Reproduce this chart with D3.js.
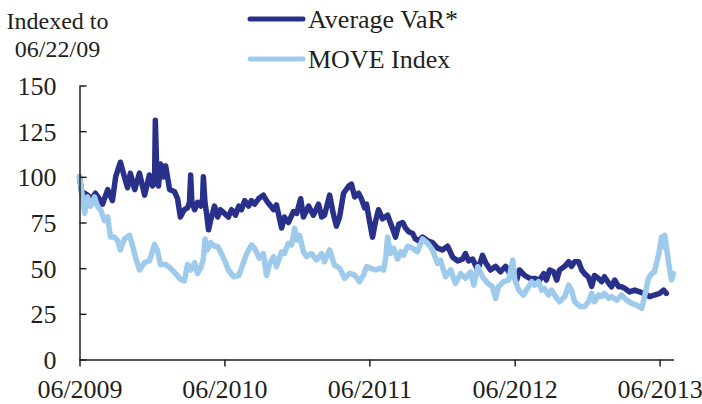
<!DOCTYPE html>
<html>
<head>
<meta charset="utf-8">
<script src="https://cdn.jsdelivr.net/npm/d3@7"></script>
<style>
  html, body { margin: 0; padding: 0; background: #fff; }
  svg { display: block; }
  text { font-family: "Liberation Serif", "Times New Roman", serif; fill: #231f20; }
</style>
</head>
<body>
<svg id="chart" width="702" height="404"></svg>
<script>
// ---- data (days since 06/22/09, index value) ----
const indexDate = "2009-06-22";
const endDate = "2013-07-27";

const varDay = [0,5,13,20,30,40,50,58,71,83,91,103,113,121,128,139,151,164,176,184,189,191,195,199,204,212,217,227,239,247,254,264,272,277,280,283,290,297,305,310,312,316,320,325,330,340,348,355,365,375,383,393,401,408,416,426,433,441,451,463,471,476,489,496,509,516,526,539,547,557,564,577,589,602,610,617,630,640,647,655,665,678,685,693,703,710,718,723,731,738,746,753,763,776,788,796,804,814,821,829,839,846,854,864,877,889,902,914,927,940,952,965,972,980,990,1003,1015,1023,1035,1048,1060,1073,1081,1088,1101,1108,1121,1134,1146,1159,1169,1176,1184,1194,1202,1209,1222,1232,1239,1247,1257,1265,1272,1282,1290,1297,1307,1315,1322,1333,1340,1348,1358,1365,1373,1385,1398,1411,1423,1436,1448,1461,1471,1478];
const varValue = [100,92,91,90,88,91,88,85,93,87,100,108,100,94,102,93,102,90,101,95,97,131,100,95,107,100,106,93,92,88,78,82,83,86,101,86,82,86,84,88,100,86,80,71,76,84,78,82,80,78,82,79,84,82,87,84,87,85,88,90,87,85.5,82,84.6,72,78,75,81,80,88,78,84,79,85,78,79,90,79,73,78,91,95,96,89,91,88,83,85,75,67,76,82,77,79,72,67,74,75,72,70,69,66,65,67,65,64,61,60,62,56,54,55,58,54,55,49,57,53,49,51,48,51,48,50,43.5,49,46,44.4,44.4,43.5,47,43.5,49,48,43.5,49,51,53.5,51,53.5,53.5,49,47,45,40,46,44.4,42.6,45.3,41.7,39.8,43.5,39.8,39.8,39,37,38,37,36,34.4,35.3,36.2,38,36.2];

const moveDay = [0,5,13,20,28,38,45,53,63,71,78,88,96,103,113,126,134,141,151,164,176,189,196,204,217,229,242,254,264,272,280,290,297,305,312,316,322,330,340,348,355,365,375,388,401,408,421,433,441,453,463,471,479,489,496,509,516,526,534,542,547,554,564,572,584,597,610,617,630,642,655,668,680,693,705,715,723,733,746,758,766,771,776,783,791,801,809,816,826,839,851,864,877,889,902,909,922,935,947,960,972,985,993,1003,1015,1028,1040,1048,1055,1068,1081,1091,1096,1106,1118,1131,1139,1146,1156,1164,1171,1181,1189,1202,1209,1222,1232,1239,1247,1260,1272,1282,1290,1297,1307,1315,1322,1333,1340,1353,1365,1378,1391,1403,1416,1423,1433,1441,1448,1459,1466,1471,1474,1484,1491,1496];
const moveValue = [100,93,80,89,84,89,84,82,76,78,67,67,65,60,66,68,62,56,49,53,54,63,60,52,52,50,47,44,43,52,49,53,47,50,55,66,60,64,62,62,59,54.5,49,45.3,46,50,58,62.7,60.8,55.4,58,46,52.6,56.3,50.8,59,58,63.6,62.7,71.8,65.4,68,59,56.3,58,54.5,58,53.5,60,51.7,50,44.4,47.2,46.2,42.6,46.2,50.8,50,49,50,49,55,67,58,61,55,59,57,62,61,59,66,63.6,60,52.6,54.4,45.3,49,41.7,47,44.4,48,40.7,50.8,45.3,41.7,39.8,33.4,39.8,42.6,43.5,54.4,44,38,35.3,39.8,42.6,40.7,42.6,38,38.9,35.3,38,33.5,31.6,34.4,40.7,38,31.6,29,29,31.6,36.2,31.6,35.3,34.4,36.2,33.5,34.4,32.5,35.3,32.5,30.7,29.8,28,34.4,44.4,47,48,58,67,61.7,68,52.6,43.5,47];

const yTicks = [0, 25, 50, 75, 100, 125, 150];
const xTickDates = ["2009-06-22", "2010-06-22", "2011-06-22", "2012-06-22", "2013-06-22"];
const xTickLabels = ["06/2009", "06/2010", "06/2011", "06/2012", "06/2013"];
const seriesNames = ["Average VaR*", "MOVE Index"];
const seriesColors = ["#293089", "#9ecbeb"];
const titleLines = ["Indexed to", "06/22/09"];

// ---- chart ----
const svg = d3.select("#chart");
const parse = d3.timeParse("%Y-%m-%d");
const t0 = parse(indexDate);

const x = d3.scaleTime().domain([t0, parse(endDate)]).range([79.5, 673.5]);
const y = d3.scaleLinear().domain([0, 150]).range([359.5, 85.5]);

const toPts = (days, vals) => days.map((d, i) => ({ date: d3.timeDay.offset(t0, d), v: vals[i] }));
const varData = toPts(varDay, varValue);
const moveData = toPts(moveDay, moveValue);

const line = d3.line().x(d => x(d.date)).y(d => y(d.v));

// lines: dark first, light on top
[[varData, seriesColors[0]], [moveData, seriesColors[1]]].forEach(([data, col]) => {
  svg.append("path")
    .datum(data)
    .attr("d", line)
    .attr("fill", "none")
    .attr("stroke", col)
    .attr("stroke-width", 5.5)
    .attr("stroke-linejoin", "round")
    .attr("stroke-linecap", "round");
});

// y axis
const yAxis = svg.append("g")
  .attr("transform", `translate(${x.range()[0]},0)`)
  .call(d3.axisLeft(y).tickValues(yTicks).tickSizeInner(-7).tickSizeOuter(0).tickPadding(23));
// x axis
const xAxis = svg.append("g")
  .attr("transform", `translate(0,${y(0)})`)
  .call(d3.axisBottom(x)
    .tickValues(xTickDates.map(parse))
    .tickFormat((d, i) => xTickLabels[i])
    .tickSizeInner(7).tickSizeOuter(0).tickPadding(13.5));

[yAxis, xAxis].forEach(g => {
  g.select(".domain").attr("stroke", "#231f20").attr("stroke-width", 1.5);
  g.selectAll(".tick line").attr("stroke", "#231f20").attr("stroke-width", 1.5);
  g.selectAll(".tick text")
    .style("font-family", '"Liberation Serif", "Times New Roman", serif')
    .style("font-size", "26px")
    .attr("fill", "#231f20");
});
yAxis.selectAll(".tick text").attr("dy", "0.34em");

// title
svg.append("text").attr("x", 57.5).attr("y", 29.3).attr("text-anchor", "middle")
  .style("font-size", "24px").text(titleLines[0]);
svg.append("text").attr("x", 57.5).attr("y", 56.7).attr("text-anchor", "middle")
  .style("font-size", "24px").text(titleLines[1]);

// legend
const legendY = [19, 59];
seriesNames.forEach((name, i) => {
  svg.append("line")
    .attr("x1", 250).attr("x2", 303)
    .attr("y1", legendY[i]).attr("y2", legendY[i])
    .attr("stroke", seriesColors[i]).attr("stroke-width", 5)
    .attr("stroke-linecap", "round");
  svg.append("text")
    .attr("x", 308).attr("y", legendY[i] + 9.3)
    .style("font-size", "26px")
    .text(name);
});
</script>
</body>
</html>
